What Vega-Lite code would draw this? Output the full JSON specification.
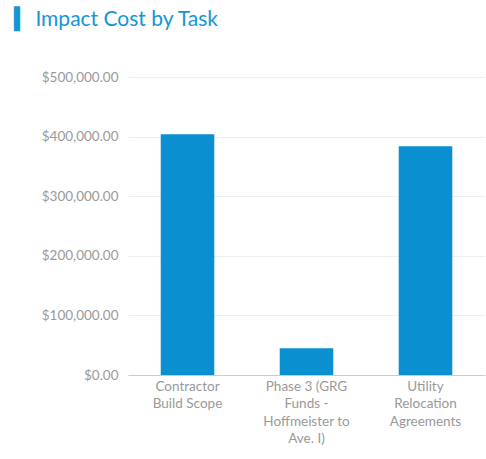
{
  "$schema": "https://vega.github.io/schema/vega-lite/v6.json",
  "autosize": "none",
  "padding": {"left": 128, "top": 77, "right": 1, "bottom": 84},
  "width": 357,
  "height": 298,
  "background": "white",
  "title": {
    "text": "▍ Impact Cost by Task",
    "anchor": "start",
    "orient": "top",
    "frame": "group",
    "dx": -114,
    "offset": 40,
    "font": "Lato",
    "fontSize": 21,
    "fontWeight": "normal",
    "color": "#1596d4"
  },
  "data": {
    "values": [
      {"task": "Contractor Build Scope", "cost": 404000},
      {"task": "Phase 3 (GRG Funds - Hoffmeister to Ave. I)", "cost": 45000},
      {"task": "Utility Relocation Agreements", "cost": 384000}
    ]
  },
  "mark": {"type": "bar", "color": "#0a8fd1"},
  "encoding": {
    "x": {
      "field": "task",
      "type": "nominal",
      "sort": null,
      "title": null,
      "scale": {"paddingInner": 0.55, "paddingOuter": 0.275},
      "axis": {
        "labelAngle": 0,
        "labelFont": "Lato",
        "labelFontSize": 13.5,
        "labelColor": "#999999",
        "labelPadding": 4,
        "labelLineHeight": 17.5,
        "labelLimit": 0,
        "domainColor": "#cccccc",
        "ticks": false,
        "labelExpr": "datum.value == 'Contractor Build Scope' ? ['Contractor', 'Build Scope'] : datum.value == 'Utility Relocation Agreements' ? ['Utility', 'Relocation', 'Agreements'] : ['Phase 3 (GRG', 'Funds -', 'Hoffmeister to', 'Ave. I)']"
      }
    },
    "y": {
      "field": "cost",
      "type": "quantitative",
      "title": null,
      "scale": {"domain": [0, 500000], "nice": false},
      "axis": {
        "values": [0, 100000, 200000, 300000, 400000, 500000],
        "format": "$,.2f",
        "labelFont": "Lato",
        "labelFontSize": 13.5,
        "labelColor": "#999999",
        "labelPadding": 10,
        "ticks": false,
        "domain": false,
        "gridColor": "#eeeeee"
      }
    }
  },
  "config": {"view": {"stroke": null}}
}
